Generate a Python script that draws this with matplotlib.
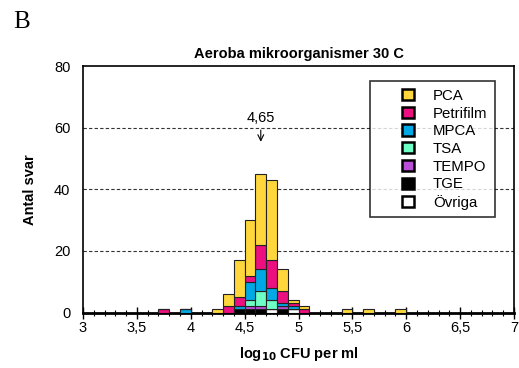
import numpy as np
import matplotlib.pyplot as plt
from matplotlib.patches import Patch, Rectangle
from matplotlib.legend_handler import HandlerBase
from matplotlib.ticker import MultipleLocator, FuncFormatter

# ---------------- Datos ----------------
# bins de 0.1 log10 (borde izquierdo)
bins = [3.7, 3.9, 4.2, 4.3, 4.4, 4.5, 4.6, 4.7, 4.8, 4.9, 5.0, 5.4, 5.6, 5.9]

ovriga    = [0, 0, 0, 0, 0, 0, 0, 1, 0, 1, 0, 0, 0, 0]
tge       = [0, 0, 0, 0, 1, 1, 1, 0, 1, 0, 0, 0, 0, 0]
tempo     = [0, 0, 0, 0, 0, 1, 1, 0, 1, 0, 0, 0, 0, 0]
tsa       = [0, 0, 0, 0, 0, 2, 5, 3, 0, 0, 0, 0, 0, 0]
mpca      = [0, 1, 0, 0, 1, 6, 7, 4, 1, 1, 0, 0, 0, 0]
petrifilm = [1, 0, 0, 2, 3, 2, 8, 9, 4, 1, 1, 0, 0, 0]
pca       = [0, 0, 1, 4, 12, 18, 23, 26, 7, 1, 1, 1, 1, 1]

median_val = 4.65

# orden de apilado: de abajo hacia arriba
series = [
    ("Övriga", ovriga, "#ffffff"),
    ("TGE", tge, "#000000"),
    ("TEMPO", tempo, "#b94fd6"),
    ("TSA", tsa, "#6dffc6"),
    ("MPCA", mpca, "#00a9e6"),
    ("Petrifilm", petrifilm, "#ec0f7f"),
    ("PCA", pca, "#ffd73c"),
]


class SquareHandler(HandlerBase):
    """Cuadrado pegado al lado derecho del hueco del handle."""
    def create_artists(self, legend, orig_handle, xdescent, ydescent,
                       width, height, fontsize, trans):
        s = 0.75 * fontsize
        r = Rectangle((width - xdescent - s, height / 2 - ydescent - s / 2), s, s,
                      facecolor=orig_handle.get_facecolor(), edgecolor='black',
                      linewidth=1.8, transform=trans)
        return [r]


plt.rcParams['font.family'] = ['Liberation Sans', 'DejaVu Sans']

fig = plt.figure(figsize=(5.19, 3.68), dpi=100)
ax = fig.add_axes([83/519, 1 - 312.5/368, 431/519, 246.5/368])

x = np.array(bins)
bottom = np.zeros(len(bins))
for name, vals, col in series:
    vals = np.array(vals, dtype=float)
    ax.bar(x, vals, width=0.1, bottom=bottom, align='edge', color=col,
           edgecolor='#222222', linewidth=0.8, zorder=3)
    bottom += vals

ax.set_xlim(3, 7)
ax.set_ylim(0, 80)
ax.xaxis.set_major_locator(MultipleLocator(0.5))
ax.xaxis.set_minor_locator(MultipleLocator(0.1))
ax.yaxis.set_major_locator(MultipleLocator(20))
ax.xaxis.set_major_formatter(FuncFormatter(lambda v, p: f"{v:g}".replace(".", ",")))

for yv in (20, 40, 60):
    ax.axhline(yv, color='#333333', linestyle=(0, (3, 2)), linewidth=0.8, zorder=1)

for s in ax.spines.values():
    s.set_linewidth(1.2)
ax.spines['bottom'].set_linewidth(2)
ax.tick_params(axis='x', which='major', direction='inout', length=8, width=1, labelsize=10.5, pad=2)
ax.tick_params(axis='x', which='minor', direction='inout', length=5, width=0.8)
ax.tick_params(axis='y', which='major', length=0, labelsize=10.5, pad=9)

ax.set_title("Aeroba mikroorganismer 30 C", fontsize=10.5, fontweight='bold', pad=6)
ax.set_ylabel("Antal svar", fontsize=10.5, fontweight='bold', labelpad=12)
ax.set_xlabel(r"log$_{\mathbf{10}}$ CFU per ml", fontsize=10.5, fontweight='bold', labelpad=7)

ax.annotate(f"{median_val:g}".replace(".", ","), xy=(median_val, 54.5), xytext=(median_val, 61),
            ha='center', va='bottom', fontsize=10.5,
            arrowprops=dict(arrowstyle='->', color='black', lw=0.8))

handles = [Patch(facecolor=col, edgecolor='black', label=name)
           for name, vals, col in reversed(series)]
leg = fig.legend(handles=handles, loc='upper left', bbox_to_anchor=(370/519, 1 - 81/368),
                 fontsize=10.8, frameon=True, fancybox=False, edgecolor='black',
                 handler_map={Patch: SquareHandler()},
                 handlelength=2.4, handleheight=0.9, handletextpad=1.3,
                 labelspacing=0.22, borderpad=0.5, borderaxespad=0)
leg.get_frame().set_linewidth(1.2)

fig.text(13/519, 1 - 22/368, "B", fontsize=18, family='Liberation Serif', va='center')

fig.savefig("out.png", dpi=100)
